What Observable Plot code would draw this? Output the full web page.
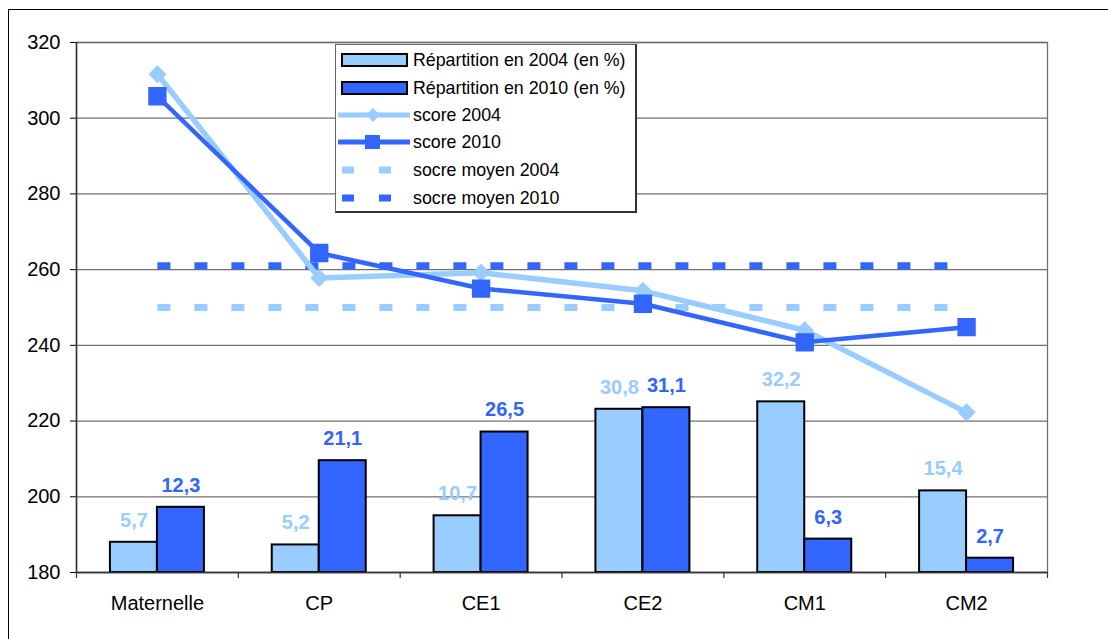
<!DOCTYPE html>
<html><head><meta charset="utf-8">
<script src="https://cdn.jsdelivr.net/npm/d3@7"></script>
<script src="https://cdn.jsdelivr.net/npm/@observablehq/plot@0.6"></script>
<style>
body{margin:0;background:#fff;}
#wrap{position:relative;width:1108px;height:639px;overflow:hidden;font-family:"Liberation Sans",Arial,sans-serif;background:#fff;}
#frame{position:absolute;left:8px;top:9px;width:1200px;height:700px;border:1.5px solid #000;pointer-events:none;}
#chart{position:absolute;left:0;top:0;}
#legend{position:absolute;left:335px;top:44px;width:302px;height:169px;background:#fff;border:1px solid #666;border-right:2px solid #333;border-bottom:2px solid #333;box-sizing:border-box;}
.row{position:absolute;left:0;height:28px;display:flex;align-items:center;}
.row svg{display:block;}
.row span{font-size:17.8px;color:#000;margin-left:3px;white-space:nowrap;}
</style></head>
<body>
<div id="wrap"><div id="chart"></div><div id="frame"></div><div id="legend"></div></div>
<script>
const categories = ["Maternelle", "CP", "CE1", "CE2", "CM1", "CM2"];
const rep2004 = [5.7, 5.2, 10.7, 30.8, 32.2, 15.4];
const rep2010 = [12.3, 21.1, 26.5, 31.1, 6.3, 2.7];
const score2004 = [311.6, 257.8, 259.2, 254.4, 244, 222.3];
const score2010 = [305.8, 264.4, 255, 251, 240.8, 244.8];
const moyen2004 = 250;
const moyen2010 = 261;
const yTicks = [180, 200, 220, 240, 260, 280, 300, 320];
const seriesNames = ["Répartition en 2004 (en %)", "Répartition en 2010 (en %)", "score 2004", "score 2010", "socre moyen 2004", "socre moyen 2010"];

const light = "#99CCFF", dark = "#3366FF";
const W = 1108, H = 639, mL = 76, mR = 61, mT = 42, mB = 67;
const bw = (W - mL - mR) / categories.length;
const plotH = H - mT - mB;
const barW = 47;
// secondary axis (0–100 %) mapped onto primary 180–320
const pctToY = p => 180 + p * (320 - 180) / 100;
const fmt = v => String(v).replace(".", ",");

const bars04 = categories.map((c, i) => ({c, v: rep2004[i]}));
const bars10 = categories.map((c, i) => ({c, v: rep2010[i]}));
const s04 = categories.map((c, i) => ({c, v: score2004[i]}));
const s10 = categories.map((c, i) => ({c, v: score2010[i]}));
const m04 = [{c: categories[0], v: moyen2004}, {c: categories[categories.length - 1], v: moyen2004}];
const m10 = [{c: categories[0], v: moyen2010}, {c: categories[categories.length - 1], v: moyen2010}];

const chart = Plot.plot({
  width: W, height: H,
  marginLeft: mL, marginRight: mR, marginTop: mT, marginBottom: mB,
  style: {fontFamily: "'Liberation Sans', Arial, sans-serif", fontSize: "20px", color: "#000", background: "transparent"},
  x: {domain: categories, padding: 0, round: false, tickSize: 0, tickPadding: 23, label: null},
  y: {domain: [180, 320], ticks: yTicks, tickSize: 6, tickPadding: 10, label: null},
  marks: [
    Plot.ruleY(yTicks, {stroke: "#707070", strokeWidth: 1.3}),
    Plot.frame({stroke: "#707070", strokeWidth: 1.3}),
    Plot.barY(bars04, {x: "c", y1: 180, y2: d => pctToY(d.v), fill: light, stroke: "#000", strokeWidth: 2, insetLeft: bw / 2 - barW, insetRight: bw / 2}),
    Plot.barY(bars10, {x: "c", y1: 180, y2: d => pctToY(d.v), fill: dark, stroke: "#000", strokeWidth: 2, insetLeft: bw / 2, insetRight: bw / 2 - barW}),
    Plot.ruleY([180], {stroke: "#333", strokeWidth: 1.5}),
    Plot.ruleX([categories[0]], {dx: -bw / 2, stroke: "#333", strokeWidth: 1.5}),
    Plot.ruleX(categories, {dx: -bw / 2, insetTop: plotH, insetBottom: -6, stroke: "#333", strokeWidth: 1.2}),
    Plot.ruleX([categories[categories.length - 1]], {dx: bw / 2, insetTop: plotH, insetBottom: -6, stroke: "#333", strokeWidth: 1.2}),
    Plot.text(bars04, {x: "c", y: d => pctToY(d.v), text: d => fmt(d.v), dx: -barW / 2, dy: -22, fill: light, fontWeight: "bold", fontSize: 20, lineAnchor: "middle"}),
    Plot.text(bars10, {x: "c", y: d => pctToY(d.v), text: d => fmt(d.v), dx: barW / 2, dy: -22, fill: dark, fontWeight: "bold", fontSize: 20, lineAnchor: "middle"}),
    Plot.line(m04, {x: "c", y: "v", stroke: light, strokeWidth: 7, strokeDasharray: "13,24", strokeLinecap: "butt"}),
    Plot.line(m10, {x: "c", y: "v", stroke: dark, strokeWidth: 7, strokeDasharray: "13,24", strokeLinecap: "butt"}),
    Plot.line(s04, {x: "c", y: "v", stroke: light, strokeWidth: 5.5, strokeLinejoin: "miter"}),
    Plot.dot(s04, {x: "c", y: "v", symbol: "diamond2", r: 7.2, fill: light, stroke: light}),
    Plot.line(s10, {x: "c", y: "v", stroke: dark, strokeWidth: 4.5, strokeLinejoin: "miter"}),
    Plot.dot(s10, {x: "c", y: "v", symbol: "square", r: 9.5, fill: dark, stroke: dark})
  ]
});
document.getElementById("chart").appendChild(chart);

// legend
const legend = document.getElementById("legend");
const rowCenters = [15, 43, 70, 97, 125, 153];
const kinds = [
  {t: "bar", c: light}, {t: "bar", c: dark},
  {t: "line", c: light, m: "diamond"}, {t: "line", c: dark, m: "square"},
  {t: "dash", c: light}, {t: "dash", c: dark}
];
seriesNames.forEach((name, i) => {
  const k = kinds[i];
  const row = document.createElement("div");
  row.className = "row";
  row.style.top = (rowCenters[i] - 14) + "px";
  const ns = "http://www.w3.org/2000/svg";
  const svg = document.createElementNS(ns, "svg");
  svg.setAttribute("width", 74); svg.setAttribute("height", 28);
  let inner = "";
  if (k.t === "bar") {
    inner = `<rect x="6" y="8" width="65" height="12" fill="${k.c}" stroke="#000" stroke-width="2"/>`;
  } else if (k.t === "line") {
    inner = `<line x1="2" x2="74" y1="14" y2="14" stroke="${k.c}" stroke-width="5"/>`;
    if (k.m === "diamond") inner += `<path d="M37,7 L44,14 L37,21 L30,14Z" fill="${k.c}"/>`;
    else inner += `<rect x="29" y="7" width="15" height="14" fill="${k.c}"/>`;
  } else {
    inner = `<line x1="6" x2="74" y1="14" y2="14" stroke="${k.c}" stroke-width="7" stroke-dasharray="12,25"/>`;
  }
  svg.innerHTML = inner;
  row.appendChild(svg);
  const span = document.createElement("span");
  span.textContent = name;
  row.appendChild(span);
  legend.appendChild(row);
});
</script>
</body></html>
